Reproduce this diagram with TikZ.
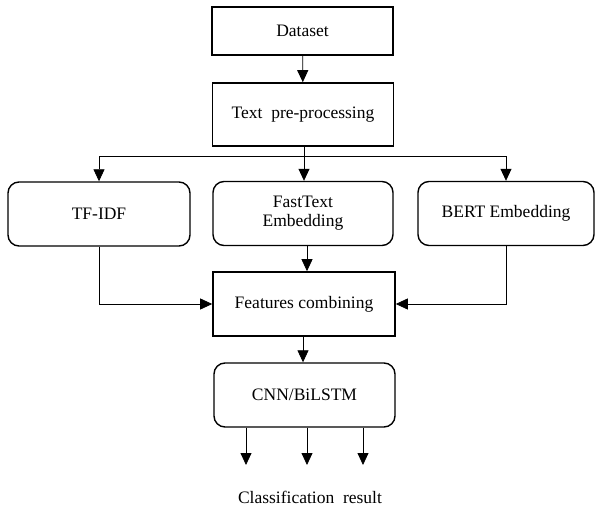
\documentclass[tikz,border=0pt]{standalone}
\usepackage{fontspec}
\setmainfont{Liberation Serif}
\usetikzlibrary{arrows.meta}
\begin{document}
\begin{tikzpicture}[x=1pt,y=-1pt,
  every node/.style={font=\fontsize{17.5}{21}\selectfont},
  sqbox/.style={draw,line width=1.6pt,minimum width=181pt,align=center,inner sep=2pt},
  rbox/.style={draw,line width=1.4pt,rounded corners=11pt,minimum width=182pt,minimum height=64pt,align=center,inner sep=2pt},
  conn/.style={line width=0.8pt,-{Triangle[length=12pt,width=11pt]}},
  line/.style={line width=0.8pt}]
\useasboundingbox (0,0) rectangle (595,508);
\node[sqbox,minimum height=48pt] (ds) at (302.5,31) {Dataset};
\node[sqbox,minimum height=63pt] (tp) at (303,114.5) {Text\ \ pre-processing};
\node[rbox] (tf) at (99,214) {TF-IDF};
\node[rbox,minimum width=180pt] (ft) at (303,213.5) {FastText\\[-2pt]Embedding};
\node[rbox,minimum width=176pt] (bt) at (506,213.5) {BERT Embedding};
\node[sqbox,minimum width=182pt,minimum height=64pt] (fc) at (304,304) {Features combining};
\node[rbox,minimum width=181pt] (cnn) at (304.5,395) {CNN/BiLSTM};
\node (res) at (310,497) {Classification\ \ result};
\coordinate (j) at (304,156);
\coordinate (o1) at (246,465);
\coordinate (o2) at (307,465);
\coordinate (o3) at (363,465);
\draw[conn] (ds) -- (tp);
\draw[conn] (tp.south -| j) -- (ft.north -| j);
\draw[line] (tp.south -| j) -- (j);
\draw[conn] (j) -| (tf.north);
\draw[conn] (j) -| (bt.north);
\draw[conn] (ft.south -| 307,0) -- (fc.north -| 307,0);
\draw[conn] (tf.south) |- (fc.west);
\draw[conn] (bt.south) |- (fc.east);
\draw[conn] (fc.south -| 303,0) -- (cnn.north -| 303,0);
\draw[conn] (cnn.south -| o1) -- (o1);
\draw[conn] (cnn.south -| o2) -- (o2);
\draw[conn] (cnn.south -| o3) -- (o3);
\end{tikzpicture}
\end{document}
